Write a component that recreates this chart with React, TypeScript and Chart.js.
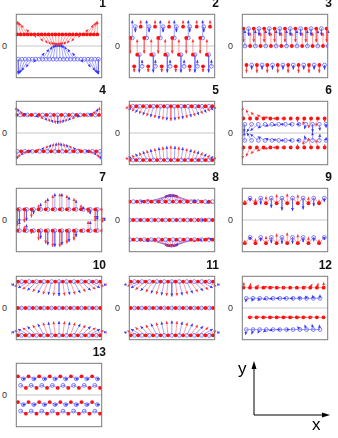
import React, { useEffect, useRef } from 'react';
import { Chart, registerables } from 'chart.js';
Chart.register(...registerables);

// ---------------- data (x = lattice index units, y = displacement units, zero line at 0) -------------
// Panel 1
const p1RedDX = [0, -0.8, -1.5, -1.9, -1.4, 0.4, 1.4, 1.7, 1.6, 1.3, 0.7, 0.2, -0.2, -0.7, -1.3, -1.6, -1.7, -1.4, -0.4, 1.4, 1.9, 1.5, 0.8, 0];
const p1RedDY = [0.42, 0.4, 0.37, 0.3, 0.16, -0.1, -0.22, -0.28, -0.32, -0.34, -0.35, -0.36, -0.36, -0.35, -0.34, -0.32, -0.28, -0.22, -0.1, 0.16, 0.3, 0.37, 0.4, 0.42];
const p1BlueDX = [0, -0.8, -1.5, -2, -1.8, -0.6, 1.5, 1.8, 1.7, 1.3, 0.7, 0.2, -0.2, -0.7, -1.3, -1.7, -1.8, -1.5, 0.6, 1.8, 2, 1.5, 0.8, 0];
const p1BlueDY = [-0.47, -0.46, -0.43, -0.36, -0.25, -0.1, 0.2, 0.32, 0.4, 0.45, 0.47, 0.48, 0.48, 0.47, 0.45, 0.4, 0.32, 0.2, -0.1, -0.25, -0.36, -0.43, -0.46, -0.47];

// Panel 2
const p2ABlueX = [0.94, 2.9, 4.9, 6.8, 8.7, 10.7];
const p2ABlueDY = [-0.17, -0.17, -0.17, -0.17, -0.17, -0.17];
const p2ARedX = [1.7, 3.75, 5.75, 7.75, 9.7, 11.6];
const p2ARedDY = [0.2, 0.2, 0.2, 0.2, 0.2, 0.2];
const p2BRedX = [0.2, 2.2, 4.2, 6.2, 8.2, 10.2];
const p2BRedDY = [-0.48, -0.48, -0.48, -0.48, -0.48, -0.48];
const p2BBlueX = [0.5, 2.55, 4.5, 6.5, 8.5, 10.55];
const p2BBlueDY = [0.55, 0.55, 0.55, 0.55, 0.55, 0.55];
const p2CRedX = [1.2, 3.2, 5.2, 7.15, 9.15, 11.15];
const p2CRedDY = [0.48, 0.48, 0.48, 0.48, 0.48, 0.48];
const p2CBlueX = [1.5, 3.5, 5.5, 7.45, 9.45, 11.4];
const p2CBlueDY = [-0.55, -0.55, -0.55, -0.55, -0.55, -0.55];
const p2DRedX = [0.77, 2.77, 4.7, 6.7, 8.7, 10.6];
const p2DRedDY = [-0.18, -0.18, -0.18, -0.18, -0.18, -0.18];
const p2DBlueX = [1.9, 3.8, 5.9, 7.9, 9.8, 11.8];
const p2DBlueDY = [0.2, 0.2, 0.2, 0.2, 0.2, 0.2];

// Panel 3
const p3Row1DY = [-0.42, -0.22, -0.42, -0.22, -0.42, -0.22, -0.42, -0.22, -0.42, -0.22, -0.42, -0.22, -0.42, -0.22, -0.42, -0.22, -0.42];
const p3Row2DY = [0.5, 0.42, 0.5, 0.42, 0.5, 0.42, 0.5, 0.42, 0.5, 0.42, 0.5, 0.42, 0.5, 0.42, 0.5, 0.42, 0.5];
const p3Row3DY = [-0.24, -0.14, -0.24, -0.14, -0.24, -0.14, -0.24, -0.14, -0.24, -0.14, -0.24, -0.14, -0.24, -0.14, -0.24, -0.14];

// Panel 4
const p4TopDX = [-0.1, -0.7, -1.1, -1.3, -1.1, 0.9, 1.2, 1.2, 1.0, 0.7, 0.4, 0, -0.4, -0.7, -1.0, -1.2, -1.2, -0.9, 1.1, 1.3, 1.1, 0.7, 0.1];
const p4TopDY = [0.25, 0.2, 0.12, 0.05, -0.02, -0.08, -0.13, -0.18, -0.22, -0.25, -0.27, -0.28, -0.27, -0.25, -0.22, -0.18, -0.13, -0.08, -0.02, 0.05, 0.12, 0.2, 0.25];
const p4BotDX = [-0.1, -0.7, -1.1, -1.3, -1.1, 0.9, 1.2, 1.2, 1.0, 0.7, 0.4, 0, -0.4, -0.7, -1.0, -1.2, -1.2, -0.9, 1.1, 1.3, 1.1, 0.7, 0.1];
const p4BotDY = [-0.25, -0.2, -0.12, -0.05, 0.02, 0.08, 0.13, 0.18, 0.22, 0.25, 0.27, 0.28, 0.27, 0.25, 0.22, 0.18, 0.13, 0.08, 0.02, -0.05, -0.12, -0.2, -0.25];

// Panel 5
const p5TopDX = [-1.2, -1.3, -1.3, -1.3, -1.2, -1.1, -1.0, -0.9, -0.7, -0.5, -0.35, -0.2, 0, 0.2, 0.35, 0.5, 0.7, 0.9, 1.0, 1.1, 1.2, 1.3, 1.3, 1.3, 1.2];
const p5TopDY = [-0.08, -0.12, -0.16, -0.2, -0.24, -0.28, -0.31, -0.34, -0.37, -0.4, -0.42, -0.44, -0.45, -0.44, -0.42, -0.4, -0.37, -0.34, -0.31, -0.28, -0.24, -0.2, -0.16, -0.12, -0.08];
const p5BotDX = [-1.2, -1.3, -1.3, -1.3, -1.2, -1.1, -1.0, -0.9, -0.7, -0.5, -0.35, -0.2, 0, 0.2, 0.35, 0.5, 0.7, 0.9, 1.0, 1.1, 1.2, 1.3, 1.3, 1.3, 1.2];
const p5BotDY = [0.08, 0.12, 0.16, 0.2, 0.24, 0.28, 0.31, 0.34, 0.37, 0.4, 0.42, 0.44, 0.45, 0.44, 0.42, 0.4, 0.37, 0.34, 0.31, 0.28, 0.24, 0.2, 0.16, 0.12, 0.08];

// Panel 6
const p6RedTopDX = [-0.1, -0.6, -0.9, -1.0, -0.9, -0.7, -0.4, -0.2, 0, -0.2, -0.4, -0.3, 0];
const p6RedTopDY = [0.36, 0.28, 0.2, 0.12, 0.05, 0, 0, -0.02, -0.1, -0.2, -0.3, -0.25, -0.1];
const p6RedBotDX = [-0.1, -0.6, -0.9, -1.0, -0.9, -0.7, -0.4, -0.2, 0, -0.2, -0.4, -0.3, 0];
const p6RedBotDY = [-0.36, -0.28, -0.2, -0.12, -0.05, 0, 0, 0.02, 0.1, 0.2, 0.3, 0.25, 0.1];
const p6BlueTopDX = [-0.1, -0.7, -1.2, -1.1, -1.0, -0.9, -0.8, -0.6, -0.4, -0.2, 0, 0.1, 0];
const p6BlueTopDY = [-0.25, -0.24, -0.2, -0.12, -0.06, -0.03, 0, 0, 0, -0.15, -0.25, -0.2, -0.1];
const p6BlueBotDX = [-0.1, -0.7, -1.2, -1.1, -1.0, -0.9, -0.8, -0.6, -0.4, -0.2, 0, 0.1, 0];
const p6BlueBotDY = [0.25, 0.24, 0.2, 0.12, 0.06, 0.03, 0, 0, 0, 0.15, 0.25, 0.2, 0.1];

// Panel 7
const p7TopRedDY = [-0.45, -0.4, -0.25, 0.15, 0.3, 0.45, 0.5, 0.45, 0.35, 0.15, -0.1, -0.3, -0.35];
const p7TopBlueDY = [-0.4, -0.35, -0.15, 0.2, 0.35, 0.5, 0.5, 0.4, 0.3, 0.1, -0.15, -0.3, -0.35];
const p7BotRedDY = [0.25, 0.15, -0.1, -0.3, -0.4, -0.5, -0.5, -0.4, -0.3, -0.05, 0.3, 0.4, 0.35];
const p7BotBlueDY = [0.3, 0.2, -0.05, -0.25, -0.45, -0.5, -0.45, -0.35, -0.2, 0, 0.3, 0.45, 0.4];

// Panel 8
const p8TopDX = [0, 0, 0, 0.8, 1.5, 5.65, 4.8, 3.95, 3.1, 2.25, 1.4, 0.55, -0.3, -1.15, -2.0, -2.85, -3.7, -4.55, -5.4, -1.5, -0.8, 1.2, 1.0, 0];
const p8TopDY = [0, 0, 0, 0.03, 0.06, 0.17, 0.19, 0.21, 0.22, 0.23, 0.24, 0.24, 0.24, 0.24, 0.23, 0.22, 0.21, 0.19, 0.17, 0.06, 0.03, -0.05, -0.05, 0];
const p8MidDX = [0, 0, 0, 0, 0, 0, 0, 0, 0, 0, 0, 0, 0, 0, 0, 0, 0, 0, 0, 0.8, 0.8, 0, 0, 0];
const p8MidDY = [0, 0, 0, 0, 0, 0, 0, 0, 0, 0, 0, 0, 0, 0, 0, 0, 0, 0, 0, 0, 0, 0, 0, 0];
const p8BotDX = [0, 0, 0, 0.8, 1.5, 5.65, 4.8, 3.95, 3.1, 2.25, 1.4, 0.55, -0.3, -1.15, -2.0, -2.85, -3.7, -4.55, -5.4, -1.5, -0.8, 1.2, 1.0, 0];
const p8BotDY = [0, 0, 0, -0.03, -0.06, -0.17, -0.19, -0.21, -0.22, -0.23, -0.24, -0.24, -0.24, -0.24, -0.23, -0.22, -0.21, -0.19, -0.17, -0.06, -0.03, 0.05, 0.05, 0];

// Panel 9
const p9TopY = [0.52, 0.68, 0.52, 0.68, 0.52, 0.68, 0.52, 0.68, 0.52, 0.68, 0.52, 0.68, 0.52, 0.68, 0.52, 0.68];
const p9TopDY = [0.1, -0.1, 0.15, -0.2, 0.22, -0.3, 0.28, -0.38, 0.3, -0.4, 0.27, -0.35, 0.2, -0.25, 0.12, -0.12];
const p9BotY = [-0.72, -0.54, -0.72, -0.54, -0.72, -0.54, -0.72, -0.54, -0.72, -0.54, -0.72, -0.54, -0.72, -0.54, -0.72, -0.54];
const p9BotDY = [0.1, -0.08, 0.15, -0.12, 0.22, -0.18, 0.3, -0.2, 0.33, -0.2, 0.28, -0.15, 0.2, -0.12, 0.12, -0.08];

// Panel 10
const p10TopDX = [-2.5, -2.8, -3, -3, -2.8, -2.5, -2.1, -1.7, -1.3, -0.9, -0.5, 0, 0.5, 0.9, 1.3, 1.7, 2.1, 2.5, 2.8, 3, 3, 2.8, 2.5];
const p10TopDY = [-0.08, -0.12, -0.16, -0.2, -0.24, -0.28, -0.32, -0.36, -0.4, -0.42, -0.44, -0.45, -0.44, -0.42, -0.4, -0.36, -0.32, -0.28, -0.24, -0.2, -0.16, -0.12, -0.08];
const p10MidDX = [0, -0.6, 0, -0.6, 0, -0.6, 0, -0.6, 0, -0.6, 0, -0.6, 0, -0.6, 0, -0.6, 0, -0.6, 0, -0.6, 0, -0.6, 0];
const p10MidDY = [0, 0, 0, 0, 0, 0, 0, 0, 0, 0, 0, 0, 0, 0, 0, 0, 0, 0, 0, 0, 0, 0, 0];
const p10BotDX = [-2.5, -2.8, -3, -3, -2.8, -2.5, -2.1, -1.7, -1.3, -0.9, -0.5, 0, 0.5, 0.9, 1.3, 1.7, 2.1, 2.5, 2.8, 3, 3, 2.8, 2.5];
const p10BotDY = [0.08, 0.12, 0.16, 0.2, 0.24, 0.28, 0.32, 0.36, 0.4, 0.42, 0.44, 0.45, 0.44, 0.42, 0.4, 0.36, 0.32, 0.28, 0.24, 0.2, 0.16, 0.12, 0.08];

// Panel 11
const p11TopDX = [-2.6, -2.9, -3, -3, -2.8, -2.4, -2.0, -1.6, -1.2, -0.8, -0.4, 0, 0.4, 0.8, 1.2, 1.6, 2.0, 2.4, 2.8, 3, 3, 2.9, 2.6];
const p11TopDY = [-0.07, -0.11, -0.15, -0.2, -0.25, -0.29, -0.33, -0.37, -0.4, -0.43, -0.45, -0.46, -0.45, -0.43, -0.4, -0.37, -0.33, -0.29, -0.25, -0.2, -0.15, -0.11, -0.07];
const p11MidDX = [0, 0.6, 0, 0.6, 0, 0.6, 0, 0.6, 0, 0.6, 0, 0.6, 0, 0.6, 0, 0.6, 0, 0.6, 0, 0.6, 0, 0.6, 0];
const p11MidDY = [0, 0, 0, 0, 0, 0, 0, 0, 0, 0, 0, 0, 0, 0, 0, 0, 0, 0, 0, 0, 0, 0, 0];
const p11BotDX = [-2.6, -2.9, -3, -3, -2.8, -2.4, -2.0, -1.6, -1.2, -0.8, -0.4, 0, 0.4, 0.8, 1.2, 1.6, 2.0, 2.4, 2.8, 3, 3, 2.9, 2.6];
const p11BotDY = [0.07, 0.11, 0.15, 0.2, 0.25, 0.29, 0.33, 0.37, 0.4, 0.43, 0.45, 0.46, 0.45, 0.43, 0.4, 0.37, 0.33, 0.29, 0.25, 0.2, 0.15, 0.11, 0.07];

// Panel 12
const p12RedTopDX = [0.1, 0.1, 0.3, 0.6, 0.6, 0.5, 0.4, 0.3, 0.3, 0.4, 0.3, 0.2, 0];
const p12RedTopDY = [0.17, 0.15, 0.1, 0.05, 0.02, 0, 0, 0, -0.02, 0.05, 0.12, 0.15, 0.18];
const p12BlueTopDX = [-0.1, -0.2, -0.3, -0.5, -0.6, -0.6, -0.6, -0.5, -0.3, -0.2, -0.1, 0];
const p12BlueTopDY = [-0.12, -0.1, -0.08, -0.05, -0.02, 0, 0, 0, 0.05, 0.08, 0.1, 0.12];
const p12RedBotDX = [0.4, 0.5, 0.6, 0.6, 0.6, 0.6, 0.6, 0.6, 0.5, 0.4, 0.3, 0.2];
const p12RedBotDY = [0.02, 0.02, 0, 0, 0, 0, 0, 0, 0, 0.02, 0.03, 0.04];
const p12BlueBotDX = [-0.1, -0.2, -0.3, -0.5, -0.6, -0.5, 0.5, -0.3, -0.4, -0.3, -0.2, -0.1];
const p12BlueBotDY = [-0.17, -0.15, -0.12, -0.08, -0.04, 0, 0, 0.04, 0.1, 0.15, 0.17, 0.15];

// Panel 13
const p13Row1Y = [0.58, 0.5, 0.58, 0.5, 0.58, 0.5, 0.58, 0.5, 0.58, 0.5, 0.58, 0.5, 0.58, 0.5, 0.58, 0.5];
const p13Row1DX = [0, 0.5, 0, 0.5, 0, 0.5, 0, 0.5, 0, 0.5, 0, 0.5, 0, 0.5, 0, 0.5];
const p13Row1DY = [0, 0, 0, 0, 0, 0, 0, 0, 0, 0, 0, 0, 0, 0, 0, 0];
const p13Row2Y = [0.3, 0.22, 0.3, 0.22, 0.3, 0.22, 0.3, 0.22, 0.3, 0.22, 0.3, 0.22, 0.3, 0.22, 0.3, 0.22];
const p13Row2DX = [0.4, 0, 0.4, 0, 0.4, 0, 0.4, 0, 0.4, 0, 0.4, 0, 0.4, 0, 0.4, 0];
const p13Row2DY = [0, 0, 0, 0, 0, 0, 0, 0, 0, 0, 0, 0, 0, 0, 0, 0];
const p13Row3Y = [-0.22, -0.3, -0.22, -0.3, -0.22, -0.3, -0.22, -0.3, -0.22, -0.3, -0.22, -0.3, -0.22, -0.3, -0.22, -0.3];
const p13Row3DX = [0, 0.5, 0, 0.5, 0, 0.5, 0, 0.5, 0, 0.5, 0, 0.5, 0, 0.5, 0, 0.5];
const p13Row3DY = [0, 0, 0, 0, 0, 0, 0, 0, 0, 0, 0, 0, 0, 0, 0, 0];
const p13Row4Y = [-0.5, -0.58, -0.5, -0.58, -0.5, -0.58, -0.5, -0.58, -0.5, -0.58, -0.5, -0.58, -0.5, -0.58, -0.5, -0.58];
const p13Row4DX = [0.4, 0, 0.4, 0, 0.4, 0, 0.4, 0, 0.4, 0, 0.4, 0, 0.4, 0, 0.4, 0];
const p13Row4DY = [0, 0, 0, 0, 0, 0, 0, 0, 0, 0, 0, 0, 0, 0, 0, 0];

// ---------------- specs built from the arrays -------------
type Row = { c: string; y?: number; ys?: number[]; x0?: number; xs?: number[]; dx?: number[]; dy: number[]; link?: string };
type Spec = { id: string; col: number; row: number; xMin: number; xMax: number; rows: Row[] };

const PANELS: Spec[] = [
  { id: '1', col: 0, row: 0, xMin: -0.4, xMax: 24.4, rows: [
    { c: 'r', y: 0.36, x0: 0, dx: p1RedDX, dy: p1RedDY },
    { c: 'b', y: -0.41, x0: 0.3, dx: p1BlueDX, dy: p1BlueDY },
  ] },
  { id: '2', col: 1, row: 0, xMin: 0, xMax: 12.34, rows: [
    { c: 'b', y: 0.6, xs: p2ABlueX, dy: p2ABlueDY },
    { c: 'r', y: 0.6, xs: p2ARedX, dy: p2ARedDY },
    { c: 'r', y: 0.25, xs: p2BRedX, dy: p2BRedDY },
    { c: 'b', y: 0.25, xs: p2BBlueX, dy: p2BBlueDY },
    { c: 'r', y: -0.27, xs: p2CRedX, dy: p2CRedDY },
    { c: 'b', y: -0.27, xs: p2CBlueX, dy: p2CBlueDY },
    { c: 'r', y: -0.63, xs: p2DRedX, dy: p2DRedDY },
    { c: 'b', y: -0.63, xs: p2DBlueX, dy: p2DBlueDY },
  ] },
  { id: '3', col: 2, row: 0, xMin: 0, xMax: 16.6, rows: [
    { c: 'rb', y: 0.54, x0: 0.3, dy: p3Row1DY },
    { c: 'br', y: 0, x0: 0.6, dy: p3Row2DY },
    { c: 'rb', y: -0.59, x0: 0.9, dy: p3Row3DY },
  ] },
  { id: '4', col: 0, row: 1, xMin: 0, xMax: 23, rows: [
    { c: 'rb', y: 0.56, x0: 0.16, dx: p4TopDX, dy: p4TopDY },
    { c: 'br', y: -0.57, x0: 0.4, dx: p4BotDX, dy: p4BotDY },
  ] },
  { id: '5', col: 1, row: 1, xMin: 0, xMax: 25, rows: [
    { c: 'rb', y: 0.83, x0: 0.17, dx: p5TopDX, dy: p5TopDY },
    { c: 'rb', y: -0.84, x0: 0.17, dx: p5BotDX, dy: p5BotDY },
  ] },
  { id: '6', col: 2, row: 1, xMin: 0, xMax: 12.75, rows: [
    { c: 'r', y: 0.45, x0: 0.22, dx: p6RedTopDX, dy: p6RedTopDY },
    { c: 'b', y: 0.27, x0: 0.44, dx: p6BlueTopDX, dy: p6BlueTopDY },
    { c: 'b', y: -0.23, x0: 0.44, dx: p6BlueBotDX, dy: p6BlueBotDY },
    { c: 'r', y: -0.45, x0: 0.22, dx: p6RedBotDX, dy: p6RedBotDY },
  ] },
  { id: '7', col: 0, row: 2, xMin: 0, xMax: 12.2, rows: [
    { c: 'r', y: 0.33, x0: 0.21, dy: p7TopRedDY },
    { c: 'b', y: 0.33, x0: 0.51, dy: p7TopBlueDY },
    { c: 'r', y: -0.33, x0: 0.21, dy: p7BotRedDY },
    { c: 'b', y: -0.33, x0: 0.51, dy: p7BotBlueDY },
  ] },
  { id: '8', col: 1, row: 2, xMin: 0, xMax: 24, rows: [
    { c: 'rb', y: 0.57, x0: 0.25, dx: p8TopDX, dy: p8TopDY },
    { c: 'br', y: 0, x0: 0.25, dx: p8MidDX, dy: p8MidDY },
    { c: 'br', y: -0.61, x0: 0.25, dx: p8BotDX, dy: p8BotDY },
  ] },
  { id: '9', col: 2, row: 2, xMin: 0, xMax: 16.3, rows: [
    { c: 'rb', ys: p9TopY, x0: 0.57, dy: p9TopDY, link: 'r' },
    { c: 'rb', ys: p9BotY, x0: 0.57, dy: p9BotDY, link: 'r' },
  ] },
  { id: '10', col: 0, row: 3, xMin: 0, xMax: 23.1, rows: [
    { c: 'rb', y: 0.82, x0: 0.56, dx: p10TopDX, dy: p10TopDY },
    { c: 'rb', y: 0, x0: 0.56, dx: p10MidDX, dy: p10MidDY },
    { c: 'rb', y: -0.85, x0: 0.56, dx: p10BotDX, dy: p10BotDY },
  ] },
  { id: '11', col: 1, row: 3, xMin: 0, xMax: 23.1, rows: [
    { c: 'rb', y: 0.82, x0: 0.5, dx: p11TopDX, dy: p11TopDY },
    { c: 'rb', y: 0, x0: 0.5, dx: p11MidDX, dy: p11MidDY },
    { c: 'rb', y: -0.85, x0: 0.5, dx: p11BotDX, dy: p11BotDY },
  ] },
  { id: '12', col: 2, row: 3, xMin: 0, xMax: 12.9, rows: [
    { c: 'r', y: 0.63, x0: 0.22, dx: p12RedTopDX, dy: p12RedTopDY, link: 'r' },
    { c: 'b', y: 0.3, x0: 0.67, dx: p12BlueTopDX, dy: p12BlueTopDY, link: 'b' },
    { c: 'r', y: -0.29, x0: 1.2, dx: p12RedBotDX, dy: p12RedBotDY, link: 'r' },
    { c: 'b', y: -0.67, x0: 0.67, dx: p12BlueBotDX, dy: p12BlueBotDY, link: 'b' },
  ] },
  { id: '13', col: 0, row: 4, xMin: 0, xMax: 16.3, rows: [
    { c: 'rb', ys: p13Row1Y, x0: 0.4, dx: p13Row1DX, dy: p13Row1DY, link: 'b' },
    { c: 'br', ys: p13Row2Y, x0: 0.9, dx: p13Row2DX, dy: p13Row2DY, link: 'b' },
    { c: 'rb', ys: p13Row3Y, x0: 0.4, dx: p13Row3DX, dy: p13Row3DY, link: 'b' },
    { c: 'br', ys: p13Row4Y, x0: 0.9, dx: p13Row4DX, dy: p13Row4DY, link: 'b' },
  ] },
];

// ---------------- layout & style -------------
const COL_LEFT = [11, 124, 237];
const ROW_TOP = [9, 96, 183, 271, 358];
const BOX_W = 96;
const BOX_H = 74;

const RED = '#ff1010';
const RED_LINE = 'rgba(255,70,70,0.7)';
const RED_HEAD = '#ff3030';
const BLUE = '#6060ff';
const BLUE_LINE = 'rgba(70,70,255,0.65)';
const BLUE_HEAD = '#3535ff';

type Arrow = { x: number; y: number; dx: number; dy: number; c: string };

function buildConfig(spec: Spec) {
  const redPts: any[] = [];
  const bluePts: any[] = [];
  const redSeg: any[] = [];
  const blueSeg: any[] = [];
  const arrows: Arrow[] = [];
  const links: { color: string; data: any[] }[] = [];
  for (const r of spec.rows) {
    const n = r.xs ? r.xs.length : r.ys ? r.ys.length : r.dy.length;
    const line: any[] = [];
    for (let i = 0; i < n; i++) {
      const x = r.xs ? r.xs[i] : (r.x0 ?? 0) + i;
      const y = r.ys ? r.ys[i] : (r.y ?? 0);
      const c = r.c[i % r.c.length];
      const dx = r.dx ? (r.dx[i] ?? 0) : 0;
      const dy = r.dy[i] ?? 0;
      (c === 'r' ? redPts : bluePts).push({ x, y });
      line.push({ x, y });
      if (dx !== 0 || dy !== 0) {
        const seg = c === 'r' ? redSeg : blueSeg;
        seg.push({ x, y }, { x: x + dx, y: y + dy }, { x: null, y: null });
        arrows.push({ x, y, dx, dy, c });
      }
    }
    if (r.link) links.push({ color: r.link, data: line });
  }

  const datasets: any[] = [
    { data: [{ x: spec.xMin, y: 0 }, { x: spec.xMax, y: 0 }], showLine: true, borderColor: '#c6c6c6', borderWidth: 1, pointRadius: 0, order: 6 },
    ...links.map((l) => ({ data: l.data, showLine: true, borderColor: l.color === 'r' ? RED_LINE : BLUE_LINE, borderWidth: 0.8, pointRadius: 0, order: 5 })),
    { data: redSeg, showLine: true, spanGaps: false, borderColor: RED_LINE, borderWidth: 0.75, pointRadius: 0, order: 4 },
    { data: blueSeg, showLine: true, spanGaps: false, borderColor: BLUE_LINE, borderWidth: 0.75, pointRadius: 0, order: 3 },
    { data: bluePts, pointRadius: 1.9, pointBackgroundColor: 'rgba(255,255,255,0)', pointBorderColor: BLUE, pointBorderWidth: 0.8, order: 2 },
    { data: redPts, pointRadius: 1.9, pointBackgroundColor: RED, pointBorderColor: RED, pointBorderWidth: 0, order: 1 },
  ];

  const deco = {
    id: 'deco' + spec.id,
    afterDatasetsDraw(chart: any) {
      const ctx = chart.ctx;
      const xs = chart.scales.x;
      const ys = chart.scales.y;
      ctx.save();
      for (const a of arrows) {
        const x1 = xs.getPixelForValue(a.x);
        const y1 = ys.getPixelForValue(a.y);
        const x2 = xs.getPixelForValue(a.x + a.dx);
        const y2 = ys.getPixelForValue(a.y + a.dy);
        const len = Math.hypot(x2 - x1, y2 - y1);
        if (len < 2.5) continue;
        const ang = Math.atan2(y2 - y1, x2 - x1);
        const L = 3.0;
        const W = 1.4;
        const cs = Math.cos(ang);
        const sn = Math.sin(ang);
        ctx.fillStyle = a.c === 'r' ? RED_HEAD : BLUE_HEAD;
        ctx.beginPath();
        ctx.moveTo(x2, y2);
        ctx.lineTo(x2 - L * cs + W * sn, y2 - L * sn - W * cs);
        ctx.lineTo(x2 - L * cs - W * sn, y2 - L * sn + W * cs);
        ctx.closePath();
        ctx.fill();
      }
      const ca = chart.chartArea;
      ctx.strokeStyle = '#7a7a7a';
      ctx.lineWidth = 1;
      ctx.strokeRect(ca.left + 0.5, ca.top + 0.5, ca.right - ca.left - 1, ca.bottom - ca.top - 1);
      ctx.restore();
    },
  };

  return {
    type: 'scatter' as const,
    data: { datasets },
    options: {
      animation: false as const,
      responsive: false,
      maintainAspectRatio: false,
      events: [] as any[],
      layout: { padding: 0 },
      plugins: { legend: { display: false }, tooltip: { enabled: false }, title: { display: false } },
      scales: {
        x: { type: 'linear' as const, min: spec.xMin, max: spec.xMax, display: false },
        y: { type: 'linear' as const, min: -1, max: 1, display: false },
      },
    },
    plugins: [deco],
  };
}

function Panel({ spec }: { spec: Spec }) {
  const ref = useRef<HTMLCanvasElement>(null);
  useEffect(() => {
    if (!ref.current) return;
    const chart = new Chart(ref.current, buildConfig(spec) as any);
    return () => chart.destroy();
  }, [spec]);
  const left = COL_LEFT[spec.col];
  const top = ROW_TOP[spec.row];
  return (
    <>
      <div style={{ position: 'absolute', left, top, width: BOX_W, height: BOX_H }}>
        <canvas ref={ref} width={BOX_W} height={BOX_H} style={{ width: BOX_W, height: BOX_H, display: 'block' }} />
      </div>
      <div style={{ position: 'absolute', left: left - 14, width: 10, top: top + BOX_H / 2 - 6, height: 12, lineHeight: '12px', fontSize: 9, textAlign: 'right', color: '#333' }}>0</div>
      <div style={{ position: 'absolute', left: left + BOX_W - 40, width: 39, top: top - 11, height: 11, lineHeight: '11px', fontSize: 12, fontWeight: 'bold', textAlign: 'right', color: '#111' }}>{spec.id}</div>
    </>
  );
}

export default function App() {
  return (
    <div style={{ position: 'fixed', left: 0, top: 0, width: 338, height: 438, background: '#fff', fontFamily: '"Liberation Sans", Arial, sans-serif', overflow: 'hidden' }}>
      {PANELS.map((p) => <Panel key={p.id} spec={p} />)}
      <svg width={338} height={438} style={{ position: 'absolute', left: 0, top: 0 }}>
        <line x1={254} y1={415} x2={254} y2={368} stroke="#000" strokeWidth={1} />
        <polygon points="254,361 251.5,369 256.5,369" fill="#000" />
        <line x1={254} y1={415} x2={323} y2={415} stroke="#000" strokeWidth={1} />
        <polygon points="330,415 322,412.5 322,417.5" fill="#000" />
      </svg>
      <div style={{ position: 'absolute', left: 238, top: 360, fontSize: 17, lineHeight: '17px' }}>y</div>
      <div style={{ position: 'absolute', left: 312, top: 416, fontSize: 17, lineHeight: '17px' }}>x</div>
    </div>
  );
}
